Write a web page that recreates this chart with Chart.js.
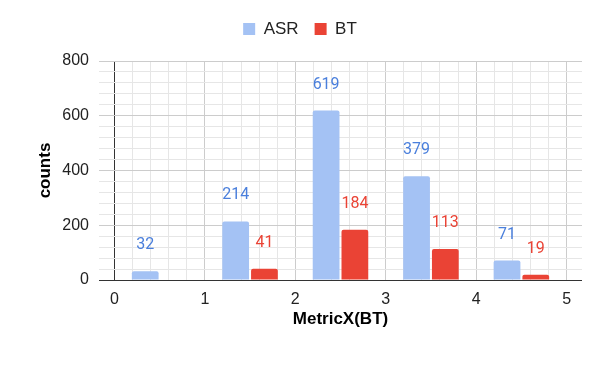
<!DOCTYPE html>
<html>
<head>
<meta charset="UTF-8">
<title>MetricX(BT) histogram</title>
<script src="https://cdn.jsdelivr.net/npm/chart.js"></script>
<style>
    body { margin: 0; background: #ffffff; }
    .wrap { width: 600px; height: 371px; }
</style>
</head>
<body>
<div class="wrap"><canvas id="chart"></canvas></div>
<script>
    // histogram bins (centre of each 0-1 bin) and counts
    const binCenters = [0.5, 1.5, 2.5, 3.5, 4.5];
    const asrCounts = [32, 214, 619, 379, 71];
    const btCounts = [0, 41, 184, 113, 19];

    // axis ticks: labelled majors, gridline-only minors
    const xMajor = [0, 1, 2, 3, 4, 5];
    const xMinorStep = 0.2;
    const yMajor = [0, 200, 400, 600, 800];
    const yMinorStep = 40;

    const axisFont = "'Liberation Sans', Arial, sans-serif";

    function isMajor(v, list) {
        return list.some(m => Math.abs(m - v) < 1e-6);
    }

    function tickValue(c) {
        return c.tick ? c.tick.value : NaN;
    }

    // value labels above each bar
    const barLabels = {
        id: 'barLabels',
        afterDatasetsDraw(chart) {
            const ctx = chart.ctx;
            ctx.save();
            ctx.font = "16px Roboto, sans-serif";
            ctx.textAlign = 'center';
            ctx.textBaseline = 'middle';
            chart.data.datasets.forEach((ds, i) => {
                const meta = chart.getDatasetMeta(i);
                meta.data.forEach((bar, j) => {
                    const v = ds.data[j].y;
                    if (!v) return;
                    ctx.fillStyle = ds.labelColor;
                    ctx.fillText(String(v), bar.x, bar.y - 26);
                });
            });
            ctx.restore();
        }
    };

    new Chart(document.getElementById('chart'), {
        type: 'bar',
        data: {
            datasets: [{
                label: 'ASR',
                data: binCenters.map((x, i) => ({ x: x, y: asrCounts[i] })),
                backgroundColor: '#a4c2f4',
                labelColor: '#4a7fdc',
                borderRadius: 2,
                categoryPercentage: 0.636,
                barPercentage: 0.93
            }, {
                label: 'BT',
                data: binCenters.map((x, i) => ({ x: x, y: btCounts[i] })),
                backgroundColor: '#ea4335',
                labelColor: '#ea4335',
                borderRadius: 2,
                categoryPercentage: 0.636,
                barPercentage: 0.93
            }]
        },
        options: {
            responsive: true,
            maintainAspectRatio: false,
            animation: false,
            layout: { padding: { top: 4.5, right: 0, bottom: 31, left: 0 } },
            plugins: {
                legend: {
                    position: 'top',
                    weight: 1000,
                    labels: {
                        boxWidth: 12,
                        boxHeight: 12,
                        padding: 16,
                        color: '#222222',
                        font: { family: axisFont, size: 17 }
                    }
                },
                // empty spacer between legend and plot
                title: {
                    display: true,
                    text: '',
                    position: 'top',
                    weight: 500,
                    font: { size: 10 },
                    padding: { top: 0, bottom: 1.5 }
                },
                tooltip: { enabled: false }
            },
            scales: {
                x: {
                    type: 'linear',
                    min: -0.17,
                    max: 5.17,
                    offset: false,
                    afterBuildTicks: scale => {
                        scale.ticks = xMajor.map(v => ({ value: v }));
                    },
                    afterFit: scale => {
                        scale.height = 60;
                        scale.paddingRight = 18;
                    },
                    grid: {
                        offset: false,
                        drawTicks: false,
                        color: c => tickValue(c) === 0 ? '#333333' : '#cccccc'
                    },
                    border: { display: false },
                    ticks: {
                        autoSkip: false,
                        maxRotation: 0,
                        padding: 10,
                        color: '#222222',
                        font: { family: axisFont, size: 16 }
                    },
                    title: {
                        display: true,
                        text: 'MetricX(BT)',
                        color: '#000000',
                        padding: { top: 0, bottom: 10 },
                        font: { family: axisFont, size: 17, weight: 'bold' }
                    }
                },
                // minor vertical gridlines only
                xMinor: {
                    type: 'linear',
                    position: 'bottom',
                    min: -0.17,
                    max: 5.17,
                    offset: false,
                    afterBuildTicks: scale => {
                        const t = [];
                        for (let k = 0; k <= 25; k++) t.push({ value: +(k * xMinorStep).toFixed(2) });
                        scale.ticks = t;
                    },
                    afterFit: scale => { scale.height = 0; },
                    grid: {
                        offset: false,
                        drawTicks: false,
                        color: c => isMajor(tickValue(c), xMajor) || isNaN(tickValue(c)) ? 'rgba(0,0,0,0)' : '#e6e6e6'
                    },
                    border: { display: false },
                    ticks: { display: false }
                },
                y: {
                    min: 0,
                    max: 800,
                    afterBuildTicks: scale => {
                        const t = [];
                        for (let v = 0; v <= 800; v += yMinorStep) t.push({ value: v });
                        scale.ticks = t;
                    },
                    afterFit: scale => { scale.width = 99; },
                    grid: {
                        drawTicks: false,
                        color: c => tickValue(c) === 0 ? '#333333' : (isMajor(tickValue(c), yMajor) ? '#cccccc' : '#e6e6e6')
                    },
                    border: { display: false },
                    ticks: {
                        autoSkip: false,
                        padding: 10,
                        color: '#222222',
                        font: { family: axisFont, size: 16 },
                        callback: v => isMajor(v, yMajor) ? String(v) : ''
                    },
                    title: {
                        display: true,
                        text: 'counts',
                        color: '#000000',
                        padding: { top: 35, bottom: 0 },
                        font: { family: axisFont, size: 17, weight: 'bold' }
                    }
                }
            }
        },
        plugins: [barLabels]
    });
</script>
</body>
</html>
